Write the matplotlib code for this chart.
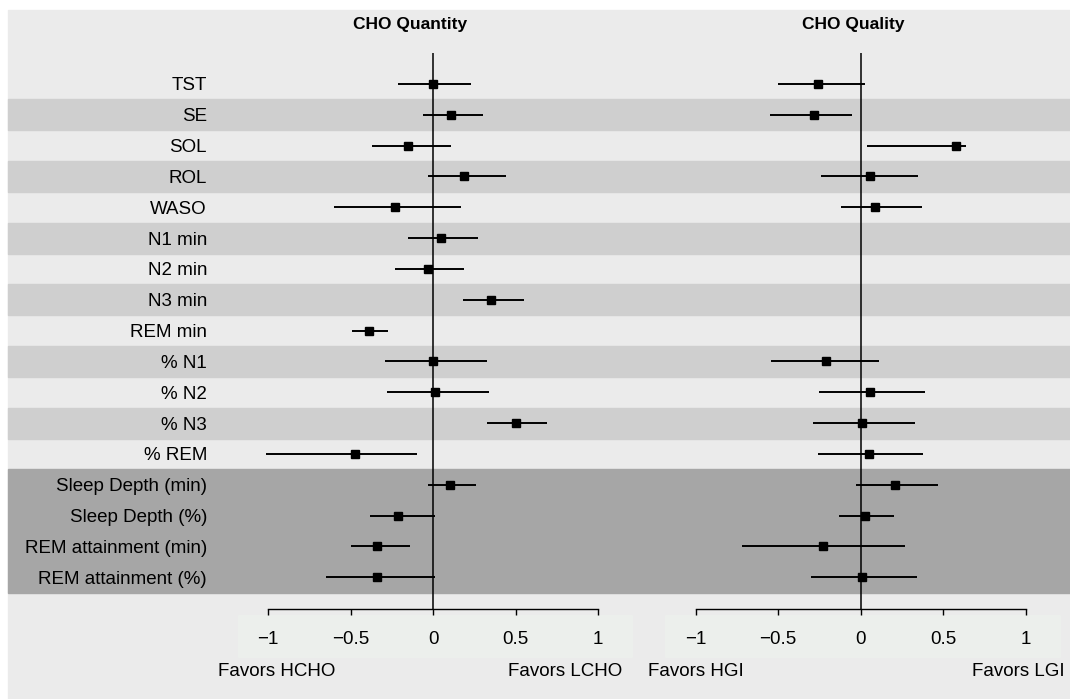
import numpy as np
import matplotlib
matplotlib.use('Agg')
import matplotlib.pyplot as plt
from matplotlib.patches import Rectangle
import matplotlib.transforms as mtransforms

plt.rcParams['font.family'] = ['Liberation Sans', 'DejaVu Sans']

labels = ['TST', 'SE', 'SOL', 'ROL', 'WASO', 'N1 min', 'N2 min', 'N3 min',
          'REM min', '% N1', '% N2', '% N3', '% REM', 'Sleep Depth (min)',
          'Sleep Depth (%)', 'REM attainment (min)', 'REM attainment (%)']

# CHO quantity (HCHO vs LCHO)
qty_est = [0.00, 0.11, -0.15, 0.19, -0.23, 0.05, -0.03, 0.35, -0.39,
           0.00, 0.01, 0.50, -0.47, 0.10, -0.21, -0.34, -0.34]
qty_lo = [-0.21, -0.06, -0.37, -0.03, -0.60, -0.15, -0.23, 0.18, -0.49,
          -0.29, -0.28, 0.33, -1.01, -0.03, -0.38, -0.50, -0.65]
qty_hi = [0.23, 0.30, 0.11, 0.44, 0.17, 0.27, 0.19, 0.55, -0.27,
          0.33, 0.34, 0.69, -0.10, 0.26, 0.01, -0.14, 0.01]

# CHO quality (HGI vs LGI)
nan = np.nan
qlt_est = [-0.26, -0.28, 0.58, 0.06, 0.09, nan, nan, nan, nan,
           -0.21, 0.06, 0.01, 0.05, 0.21, 0.03, -0.23, 0.01]
qlt_lo = [-0.50, -0.55, 0.04, -0.24, -0.12, nan, nan, nan, nan,
          -0.54, -0.25, -0.29, -0.26, -0.03, -0.13, -0.72, -0.30]
qlt_hi = [0.03, -0.05, 0.64, 0.35, 0.37, nan, nan, nan, nan,
          0.11, 0.39, 0.33, 0.38, 0.47, 0.20, 0.27, 0.34]

ticks = [-1, -0.5, 0, 0.5, 1]

W, H = 1070, 699
fig = plt.figure(figsize=(W / 100, H / 100), dpi=100)
fig.patch.set_facecolor('white')

# overall grey panel
fig.patches.append(Rectangle((8 / W, 0), 1 - 8 / W, 1 - 10 / H,
                             transform=fig.transFigure, color='#EBEBEB', zorder=-10))
# faint lighter boxes behind tick labels
for x0, x1 in [(238, 632), (665, 1060)]:
    fig.patches.append(Rectangle((x0 / W, 1 - 657 / H), (x1 - x0) / W, 42 / H,
                                 transform=fig.transFigure, color='#ECEFEC', zorder=-9))

row0, step = 84, 30.83
ylim = ((H - row0) / step, -row0 / step)
axis_y = (609 - row0) / step
y = np.arange(len(labels))

ax1 = fig.add_axes([212 / W, 0, 428 / W, 1])
ax2 = fig.add_axes([640 / W, 0, 430 / W, 1])
ax1.set_xlim((212 - 433) / 165, (640 - 433) / 165)
ax2.set_xlim((640 - 860.5) / 165, (1070 - 860.5) / 165)

# row bands across the whole width
blend = mtransforms.blended_transform_factory(fig.transFigure, ax1.transData)
for i in range(1, 12, 2):
    ax1.add_patch(Rectangle((8 / W, i - 0.5), 1, 1, transform=blend,
                            color='#CFCFCF', zorder=0, clip_on=False))
ax1.add_patch(Rectangle((8 / W, 12.5), 1, 4, transform=blend,
                        color='#A6A6A6', zorder=0, clip_on=False))

panels = [(ax1, qty_est, qty_lo, qty_hi, 'CHO Quantity', -0.14,
           'Favors HCHO', 'Favors LCHO', -1.303, 1.145),
          (ax2, qlt_est, qlt_lo, qlt_hi, 'CHO Quality', -0.045,
           'Favors HGI', 'Favors LGI', -1.29, 1.239)]

for ax, est, lo, hi, title, tx, left_txt, right_txt, lx, rx in panels:
    est, lo, hi = np.array(est), np.array(lo), np.array(hi)
    ax.set_facecolor('none')
    ax.set_ylim(*ylim)
    ax.vlines(0, -1.0, axis_y, color='black', lw=1.1, zorder=2)
    ax.errorbar(est, y, xerr=[est - lo, hi - est], fmt='s', color='black',
                ms=6, elinewidth=1.4, capsize=0, zorder=3)
    for s in ['top', 'left', 'right']:
        ax.spines[s].set_visible(False)
    ax.spines['bottom'].set_position(('data', axis_y))
    ax.spines['bottom'].set_bounds(-1, 1)
    ax.spines['bottom'].set_linewidth(1)
    ax.set_xticks(ticks)
    ax.set_xticklabels(['\u22121', '\u22120.5', '0', '0.5', '1'])
    ax.tick_params(axis='x', direction='out', length=4.5, width=1,
                   pad=11.5, labelsize=13.5, colors='black')
    ax.text(tx, (24 - row0) / step, title, ha='center', va='center',
            fontsize=12.5, fontweight='bold')
    fy = (671 - row0) / step
    ax.text(lx, fy, left_txt, ha='left', va='center', fontsize=13.5)
    ax.text(rx, fy, right_txt, ha='right', va='center', fontsize=13.5)

ax1.set_yticks(y)
ax1.set_yticklabels(labels)
ax1.tick_params(axis='y', length=0, pad=3.6, labelsize=13.5)
ax2.set_yticks([])

fig.savefig('out.png', dpi=100)
